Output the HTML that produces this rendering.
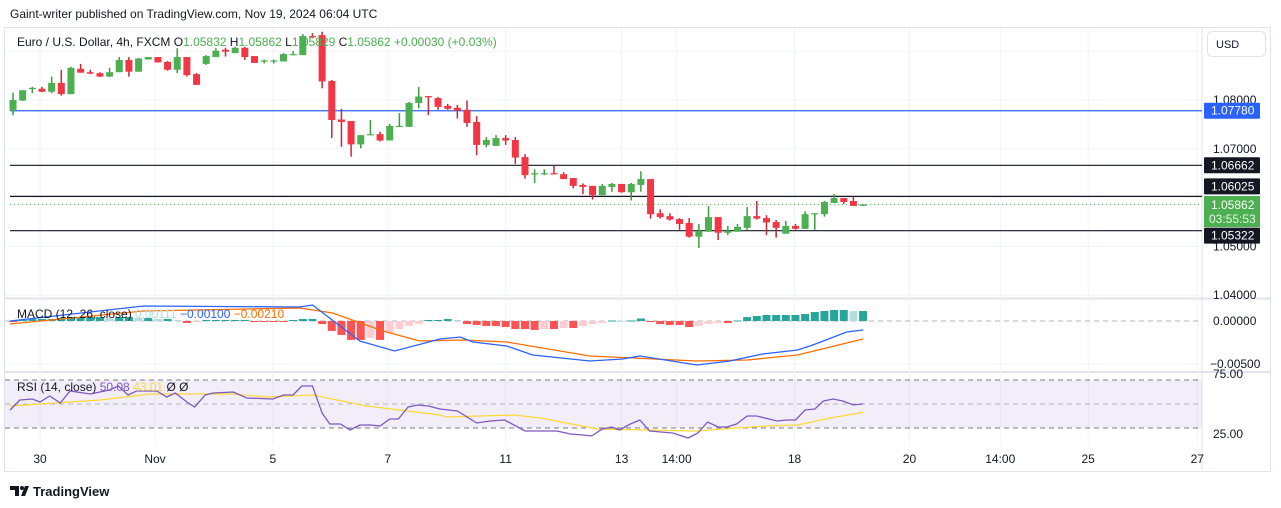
<!DOCTYPE html>
<html><head><meta charset="utf-8"><style>
body{margin:0;background:#fff;width:1281px;height:508px;overflow:hidden;font-family:"Liberation Sans",sans-serif}
svg{position:absolute;left:0;top:0}
text{font-family:"Liberation Sans",sans-serif}
</style></head><body>
<svg id="c" width="1281" height="508"></svg>
<script>
// ---- data ----
const opens=[1.0778,1.0799,1.0823,1.0823,1.0817,1.0835,1.0812,1.0864,1.0857,1.0855,1.0848,1.0857,1.0882,1.0858,1.0883,1.0888,1.0878,1.0862,1.0888,1.0853,1.0874,1.0888,1.0903,1.0896,1.0907,1.0890,1.0880,1.0880,1.0879,1.0892,1.0892,1.0931,1.0933,1.0839,1.0760,1.0757,1.0709,1.0728,1.0730,1.0717,1.0747,1.0745,1.0794,1.0808,1.0804,1.0788,1.0784,1.0780,1.0755,1.0708,1.0706,1.0722,1.0718,1.0683,1.0649,1.0649,1.0650,1.0648,1.0640,1.0626,1.0624,1.0605,1.0622,1.0628,1.0611,1.0626,1.0638,1.0568,1.0562,1.0556,1.0548,1.0520,1.0530,1.0560,1.0528,1.0530,1.0538,1.0562,1.0558,1.0550,1.0526,1.0542,1.0536,1.0567,1.0566,1.0589,1.0599,1.0593,1.05832];
const highs=[1.0815,1.0820,1.0827,1.0827,1.0848,1.0862,1.0868,1.0874,1.0862,1.0857,1.0866,1.0888,1.0888,1.0886,1.0888,1.0888,1.0880,1.0906,1.0888,1.0855,1.0892,1.0906,1.0907,1.0909,1.0909,1.0890,1.0883,1.0883,1.0896,1.0900,1.0935,1.0937,1.0940,1.0841,1.0782,1.0757,1.0728,1.0759,1.0735,1.0751,1.0773,1.0796,1.0827,1.0808,1.0806,1.0792,1.0790,1.0799,1.0767,1.0724,1.0728,1.0728,1.0724,1.0689,1.0658,1.0658,1.0665,1.0652,1.0640,1.0629,1.0624,1.0628,1.0630,1.0628,1.0630,1.0654,1.0638,1.0576,1.0568,1.0558,1.0558,1.0546,1.0583,1.0560,1.0542,1.0546,1.0581,1.0593,1.0564,1.0554,1.0552,1.0546,1.0572,1.0568,1.0593,1.0607,1.0599,1.0602,1.05862];
const lows=[1.0769,1.0798,1.0814,1.0816,1.0814,1.0809,1.0812,1.0856,1.0853,1.0847,1.0847,1.0857,1.0848,1.0858,1.0883,1.0877,1.0860,1.0855,1.0848,1.0831,1.0872,1.0888,1.0889,1.0896,1.0882,1.0876,1.0875,1.0875,1.0879,1.0892,1.0892,1.0929,1.0824,1.0722,1.0704,1.0684,1.0701,1.0728,1.0715,1.0717,1.0745,1.0745,1.0783,1.0769,1.0780,1.0780,1.0762,1.0745,1.0687,1.0703,1.0706,1.0708,1.0669,1.0639,1.0630,1.0646,1.0648,1.0638,1.0619,1.0607,1.0596,1.0605,1.0612,1.0610,1.0594,1.0612,1.0557,1.0557,1.0553,1.0534,1.0518,1.0497,1.0530,1.0513,1.0523,1.0530,1.0534,1.0555,1.0523,1.0518,1.0526,1.0534,1.0536,1.0534,1.0561,1.0589,1.0587,1.0583,1.05829];
const closes=[1.0800,1.0820,1.0825,1.0817,1.0835,1.0812,1.0866,1.0856,1.0854,1.0848,1.0857,1.0882,1.0858,1.0885,1.0888,1.0877,1.0862,1.0888,1.0851,1.0831,1.0890,1.0901,1.0899,1.0907,1.0888,1.0876,1.0881,1.0881,1.0894,1.0894,1.0931,1.0930,1.0838,1.0759,1.0755,1.0709,1.0728,1.0730,1.0717,1.0747,1.0747,1.0794,1.0807,1.0806,1.0786,1.0782,1.0778,1.0753,1.0708,1.0718,1.0722,1.0717,1.0682,1.0646,1.0650,1.0650,1.0648,1.0638,1.0624,1.0622,1.0605,1.0624,1.0628,1.0611,1.0628,1.0638,1.0566,1.0560,1.0555,1.0546,1.0520,1.0532,1.0560,1.0528,1.0532,1.0540,1.0562,1.0557,1.0549,1.0538,1.0542,1.0536,1.0566,1.0568,1.0591,1.0599,1.0591,1.0583,1.05862];
const hist=[-0.00012,0.00012,0.00023,0.00023,0.00023,0.00035,0.00046,0.00046,0.00046,0.00046,0.00035,0.00046,0.00046,0.00035,0.00035,0.00023,0.00023,0.00012,-0.00023,-0.00012,0.00012,0.00012,0.00012,0.00012,0.00012,-0.00012,-0.00012,-0.00012,-0.00012,0.00012,0.00023,0.00023,-0.00035,-0.00116,-0.00162,-0.0022,-0.0022,-0.00197,-0.0022,-0.00139,-0.00093,-0.00058,-0.00035,0.00012,0.00012,0.00023,0.00012,-0.00035,-0.00046,-0.00058,-0.00058,-0.0007,-0.00093,-0.00093,-0.00104,-0.00093,-0.00093,-0.00081,-0.00081,-0.00058,-0.00035,-0.00023,0.00006,0.00002,0.00006,0.00029,-0.00006,-0.00035,-0.00046,-0.00046,-0.0007,-0.00058,-0.00035,-0.00023,-0.00023,0.00006,0.00046,0.00058,0.0007,0.0007,0.0007,0.0007,0.00081,0.00104,0.00116,0.00128,0.00128,0.00116,0.00116];
const macdIdx=[-0.3,13.5,29.7,31,35.9,39.5,44.2,46.3,47.6,51.1,53.8,59.7,63.1,64.9,70.8,74.2,77.6,81.2,82.8,86.3,88];
const macdVal=[0,0.00174,0.00163,0.00186,-0.00233,-0.00349,-0.00209,-0.00186,-0.00244,-0.00291,-0.00395,-0.00465,-0.00442,-0.00407,-0.00512,-0.00465,-0.00384,-0.00337,-0.00279,-0.00128,-0.00105];
const sigIdx=[-0.3,13.5,29.7,33.1,38.3,42.1,46.6,51.1,59.7,70.8,76,81.2,88];
const sigVal=[-0.00035,0.00116,0.00151,0.00093,-0.00116,-0.00233,-0.00221,-0.00244,-0.00407,-0.00465,-0.00453,-0.00395,-0.00209];
const rsiIdx=[-0.3,0.7,2,2.8,3.8,4.9,5.9,8,9,10,10.9,11.9,12.8,14.9,15.9,16.8,18,18.8,19.9,20.7,22.8,24.2,26.9,28,29,29.9,31,32,32.8,33.9,34.9,35.9,37,38,39,39.9,40.9,41.9,43,44.2,46,48,49.4,50.9,53,56.3,57.7,59,59.9,61,62,62.8,63.9,64.9,65.9,68.3,69.9,70.9,71.9,73,73.9,74.9,76,77,79.1,80.1,81,82,83,83.9,84.9,85.9,87,88];
const rsiVal=[45,53.3,54.2,51.7,56.7,50.8,60.8,58.3,60,61.7,65,57.5,60.8,60.8,55.8,59.2,51.7,47.5,57.5,59.2,60,55,54.2,57.5,57.5,65,65,42.5,33.3,33.3,28.3,32.5,32.5,31.7,37.5,37.5,47.5,49.2,48.3,45.8,44.2,34.2,35.8,36.7,27.5,27.5,25,24.2,23.3,29.2,30.8,28.3,33.3,36.7,27.5,25.8,21.7,25.8,35,30.8,30.8,33.3,40,40,35.8,36.7,36.7,45,45.8,52.5,54.2,52.5,49.2,50.08];
const maIdx=[-0.3,9,14.2,22.8,26.3,31,36.6,44.2,44.9,51.8,54.6,60.5,65.6,70.8,77.8,81.2,84.6,88];
const maVal=[48.3,53.3,58.3,58.3,55.8,57.5,48.3,40.8,39.2,40.8,38.3,29.2,28.3,27.5,31.7,32.5,38.3,43.01];
const priceTicks=["1.08000","1.07000","1.05000","1.04000"];
const priceTickVals=[1.08,1.07,1.05,1.04];
const timeLabels=["30","Nov","5","7","11","13","14:00","18","20","14:00","25","27"];
const timeIdx=[2.8,14.7,26.9,38.8,51.0,63.0,68.7,80.9,92.8,102.2,111.3,122.6];
const levels=[1.0778,1.06662,1.06025,1.05322];

// ---- axes ----
const X=i=>13+i*9.66;
const PY=p=>100+(1.08-p)*4880;
const MY=v=>321-v*8600;
const RY=v=>404-(v-50)*1.2;
const svg=document.getElementById('c');
const NS='http://www.w3.org/2000/svg';
function mk(tag,at,parent){const e=document.createElementNS(NS,tag);for(const k in at)e.setAttribute(k,at[k]);(parent||svg).appendChild(e);return e;}
function txt(s,x,y,at){const e=mk('text',Object.assign({x:x,y:y,'font-size':12,fill:'#131722'},at||{}));e.textContent=s;return e;}

// frame
const fr=mk('rect',{x:4.5,y:27.5,width:1266,height:444,fill:'none',stroke:'#e0e3eb'});


mk('line',{x1:1202,y1:28,x2:1202,y2:470,stroke:'#e0e3eb'});
mk('line',{x1:5,y1:298.5,x2:1270,y2:298.5,stroke:'#e0e3eb','stroke-width':2});
mk('line',{x1:5,y1:372,x2:1270,y2:372,stroke:'#e0e3eb','stroke-width':2});
// grid
timeIdx.forEach(i=>{const x=X(i);if(x<1200)mk('line',{x1:x,y1:28,x2:x,y2:445,stroke:'#f0f3fa'});});
priceTickVals.forEach(p=>mk('line',{x1:5,y1:PY(p),x2:1202,y2:PY(p),stroke:'#f0f3fa'}));
[1.09,1.06].forEach(p=>mk('line',{x1:5,y1:PY(p),x2:1202,y2:PY(p),stroke:'#f0f3fa'}));
mk('line',{x1:5,y1:MY(-0.005),x2:1202,y2:MY(-0.005),stroke:'#f0f3fa'});

// header
const hd=txt('Gaint-writer published on TradingView.com, Nov 19, 2024 06:04 UTC',10,18,{'font-size':12});



// levels
levels.forEach((p,k)=>{const l=mk('line',{x1:10,y1:PY(p),x2:1202,y2:PY(p),stroke:k==0?'#2962ff':'#131722','stroke-width':1.2});

});
mk('line',{x1:10,y1:PY(closes[closes.length-1]),x2:1202,y2:PY(closes[closes.length-1]),stroke:'#4caf50','stroke-dasharray':'1 3'});

// candles
for(let i=0;i<opens.length;i++){
 const up=closes[i]>=opens[i];const col=up?'#4caf50':'#f23645';const wc=up?'#3d9a40':'#c2283a';
 const x=X(i);
 const w=mk('line',{x1:x,y1:PY(highs[i]),x2:x,y2:PY(lows[i]),stroke:wc,'stroke-width':1.5});
 
 
 const y1=PY(Math.max(opens[i],closes[i])),y2=PY(Math.min(opens[i],closes[i]));
 const b=mk('rect',{x:x-3.5,y:y1,width:7,height:Math.max(1.2,y2-y1),fill:col});
 
 
}

// legend
const lg=mk('text',{x:17,y:46,'font-size':12,fill:'#131722'});


lg.innerHTML='Euro / U.S. Dollar, 4h, FXCM  O<tspan fill="#4caf50">1.05832</tspan>  H<tspan fill="#4caf50">1.05862</tspan>  L<tspan fill="#4caf50">1.05829</tspan>  C<tspan fill="#4caf50">1.05862  +0.00030 (+0.03%)</tspan>';
lg.setAttribute('xml:space','preserve');

// MACD
mk('line',{x1:5,y1:MY(0),x2:1202,y2:MY(0),stroke:'#b2b5be','stroke-dasharray':'5 4'});
for(let i=0;i<hist.length;i++){
 const v=hist[i],pv=i?hist[i-1]:0;
 const col=v>=0?(v>=pv?'#26a69a':'#b2dfdb'):(v<=pv?'#ff5252':'#ffcdd2');
 const y=Math.min(MY(0),MY(v)),h=Math.max(1,Math.abs(MY(v)-MY(0)));
 const r=mk('rect',{x:X(i)-4,y:y,width:8,height:h,fill:col});
 
 
}
function poly(ix,vals,fy,col,name,w){const d=ix.map((i,k)=>X(i).toFixed(1)+','+fy(vals[k]).toFixed(1)).join(' ');
 const p=mk('polyline',{points:d,fill:'none',stroke:col,'stroke-width':w||1.3});
 
 }
poly(sigIdx,sigVal,MY,'#ff6d00','macd-signal-line');
poly(macdIdx,macdVal,MY,'#2962ff','macd-line');
const ml=mk('text',{x:17,y:318,'font-size':12,fill:'#131722'});


ml.innerHTML='MACD (12, 26, close) <tspan fill="#b2dfdb">0.00111</tspan>  <tspan fill="#2962ff">−0.00100</tspan>  <tspan fill="#ff6d00">−0.00210</tspan>';
ml.setAttribute('xml:space','preserve');

// RSI
mk('rect',{x:5,y:RY(70),width:1197,height:RY(30)-RY(70),fill:'#7e57c2','fill-opacity':0.1});
[70,50,30].forEach(v=>mk('line',{x1:5,y1:RY(v),x2:1202,y2:RY(v),stroke:v==50?'#b2b5be':'#787b86','stroke-dasharray':'5 4'}));
poly(maIdx,maVal,RY,'#fdd835','rsi-ma-line',1.2);
poly(rsiIdx,rsiVal,RY,'#7e57c2','rsi-line',1.3);
const rl=mk('text',{x:17,y:391,'font-size':12,fill:'#131722'});


rl.innerHTML='RSI (14, close)  <tspan fill="#7e57c2">50.08</tspan>  <tspan fill="#fdd835">43.01</tspan>  Ø  Ø';
rl.setAttribute('xml:space','preserve');

// price axis
priceTicks.forEach((t,k)=>txt(t,1213,PY(priceTickVals[k])+4));
txt('0.00000',1213,MY(0)+4);
txt('−0.00500',1210,MY(-0.005)+4);
txt('75.00',1213,RY(75)+4);
txt('25.00',1213,RY(25)+4);
function tag(s,y,bg,name,h){const r=mk('rect',{x:1204,y:y-(h||16)/2,width:56,height:h||16,fill:bg,rx:1});
 
 
 txt(s,1211,y+4,{fill:'#fff','font-size':12});}
tag('1.07780',PY(1.0778),'#2962ff','level-tag-1.07780');
tag('1.06662',PY(1.06662),'#131722','level-tag-1.06662');
tag('1.06025',PY(1.06025)-10,'#131722','level-tag-1.06025');
const gb=mk('rect',{x:1204,y:196,width:56,height:31,fill:'#4caf50'});


txt('1.05862',1211,209,{fill:'#fff'});txt('03:55:53',1209,223,{fill:'#e8f5e9'});
tag('1.05322',PY(1.05322)+5,'#131722','level-tag-1.05322');
const ub=mk('rect',{x:1207.5,y:31.5,width:58,height:25,rx:5,fill:'#fff',stroke:'#e0e3eb'});


txt('USD',1216,48,{'font-size':11});

// time axis
timeLabels.forEach((t,k)=>{const x=X(timeIdx[k]);if(x>1205)return;const e=txt(t,x,463,{'text-anchor':'middle'});
 
 });

// footer logo
const lo=mk('g',{});


mk('path',{d:'M10 486h9v10h-4v-6h-5z',fill:'#131722'},lo);
mk('circle',{cx:22,cy:488,r:2,fill:'#131722'},lo);
mk('path',{d:'M25 486h4l-4 10h-4z',fill:'#131722'},lo);
const lt=txt('TradingView',33,496,{'font-size':13,'font-weight':'bold'});
lo.appendChild(lt);
</script>
</body></html>
